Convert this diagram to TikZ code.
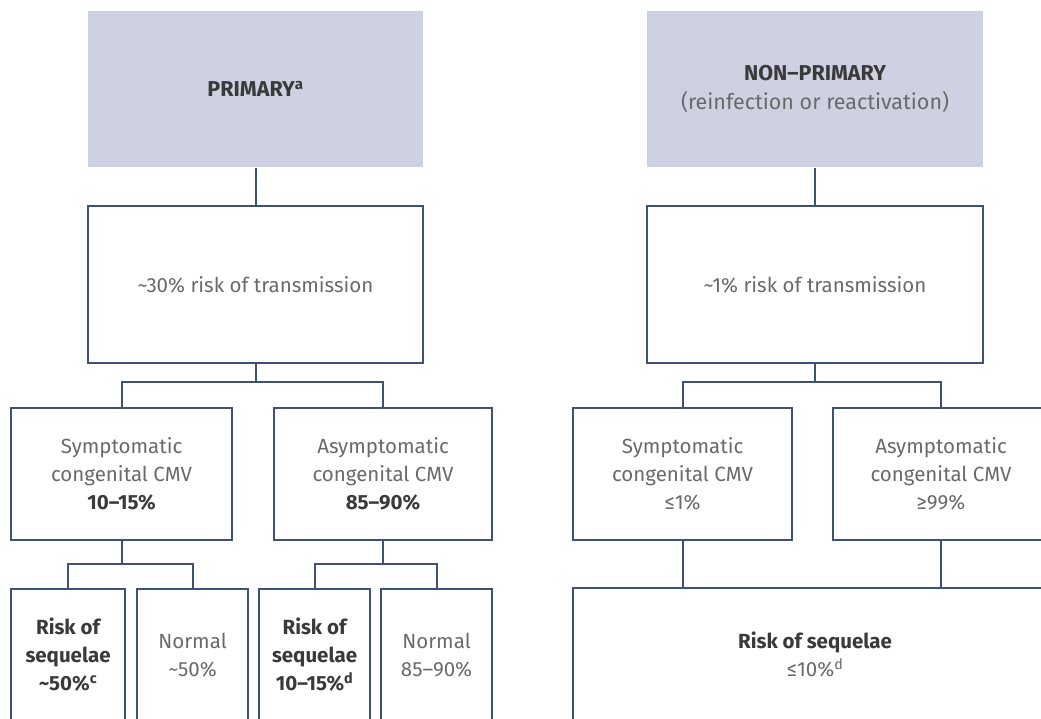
\documentclass[tikz,border=0pt]{standalone}
\usepackage{fontspec}
\setmainfont{Fira Sans}
\usetikzlibrary{calc}
\definecolor{edgec}{HTML}{3E5273}
\definecolor{headfill}{HTML}{CDD1E1}
\definecolor{txtc}{HTML}{6A6A6A}
\definecolor{boldc}{HTML}{3A3A3A}
\tikzset{
  box/.style={draw=edgec, line width=2.1pt, rectangle, anchor=north west, inner sep=0pt,
    align=center, text=txtc, font=\fontsize{20.5}{28}\selectfont},
  headbox/.style={box, draw=none, fill=headfill, font=\fontsize{21.5}{29}\selectfont},
  link/.style={draw=edgec, line width=2.1pt}
}
\newcommand{\bx}[1]{\textbf{\color{boldc}#1}}
\begin{document}
\begin{tikzpicture}[x=1pt,y=-1pt]
\useasboundingbox (0,0) rectangle (1041,718);
\clip (0,0) rectangle (1041,718);
\fill[white] (0,0) rectangle (1041,718);
% headers
\node[headbox, minimum width=335pt, minimum height=156pt] (p1) at (87,10) {\bx{PRIMARY\textsuperscript{a}}};
\node[headbox, minimum width=336pt, minimum height=156pt] (p2) at (646,10) {\bx{NON--PRIMARY}\\(reinfection or reactivation)};
% transmission
\node[box, minimum width=335pt, minimum height=157pt] (t1) at (87,205) {\textasciitilde30\% risk of transmission};
\node[box, minimum width=336pt, minimum height=157pt] (t2) at (646,205) {\textasciitilde1\% risk of transmission};
% level 2 left
\node[box, minimum width=221pt, minimum height=132pt] (s1) at (10,407) {Symptomatic\\congenital CMV\\\bx{10--15\%}};
\node[box, minimum width=218pt, minimum height=132pt] (a1) at (273,407) {Asymptomatic\\congenital CMV\\\bx{85--90\%}};
% level 2 right
\node[box, minimum width=219pt, minimum height=132pt] (s2) at (572,407) {Symptomatic\\congenital CMV\\≤1\%};
\node[box, minimum width=216pt, minimum height=132pt] (a2) at (832,407) {Asymptomatic\\congenital CMV\\≥99\%};
% level 3 left
\node[box, minimum width=114pt, minimum height=132pt] (r1) at (10,588) {\bx{Risk of}\\\bx{sequelae}\\\bx{\textasciitilde50\%\textsuperscript{c}}};
\node[box, minimum width=111pt, minimum height=132pt] (n1) at (136,588) {Normal\\\textasciitilde50\%};
\node[box, minimum width=111pt, minimum height=132pt] (r2) at (258,588) {\bx{Risk of}\\\bx{sequelae}\\\bx{10--15\%\textsuperscript{d}}};
\node[box, minimum width=111pt, minimum height=132pt] (n2) at (380,588) {Normal\\85--90\%};
% level 3 right
\node[box, minimum width=484pt, minimum height=133pt] (r3) at (572,587) {\bx{Risk of sequelae}\\≤10\%\textsuperscript{d}};
% connectors
\draw[link] (p1.south) -- (t1.north);
\draw[link] (p2.south) -- (t2.north);
\path (t1.south) ++(0,18) coordinate (b1);
\draw[link] (t1.south) -- (b1);
\draw[link] (s1.north) |- (b1) -| (a1.north);
\path (t2.south) ++(0,18) coordinate (b2);
\draw[link] (t2.south) -- (b2);
\draw[link] (s2.north) |- (b2) -| (a2.north);
\path (s1.south) ++(0,23) coordinate (c1);
\draw[link] (s1.south) -- (c1);
\draw[link] (r1.north) |- (c1) -| (n1.north);
\path (a1.south) ++(0,23) coordinate (c2);
\draw[link] (a1.south) -- (c2);
\draw[link] (r2.north) |- (c2) -| (n2.north);
\draw[link] (s2.south) -- (s2.south |- r3.north);
\draw[link] (a2.south) -- (a2.south |- r3.north);
\end{tikzpicture}
\end{document}
